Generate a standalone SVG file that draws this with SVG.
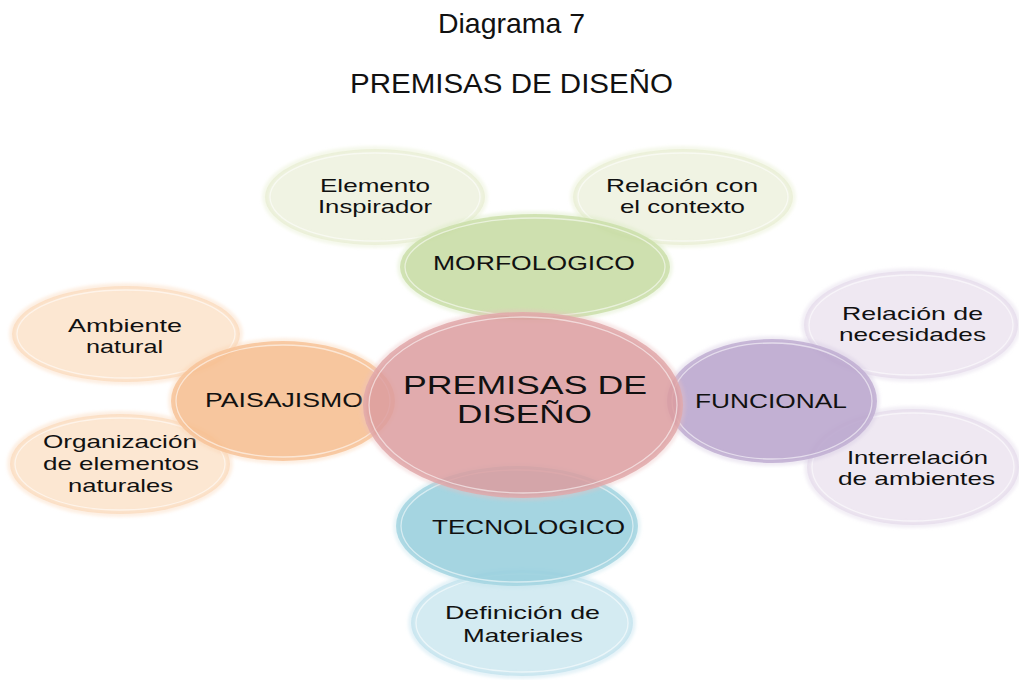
<svg xmlns="http://www.w3.org/2000/svg" width="1019" height="680" viewBox="0 0 1019 680">
<style>
text{font-family:"Liberation Sans",Arial,sans-serif;fill:#111;text-anchor:middle}
.t{font-size:28px}
.s{font-size:18.5px}
.m{font-size:20px}
.c{font-size:26px}
.rim{fill:none;stroke:#fff;stroke-width:1.3;stroke-opacity:0.55}
.glow{fill:none;stroke-width:6;stroke-opacity:0.35}
</style>
<defs>
<filter id="soft" x="-10%" y="-10%" width="120%" height="120%"><feGaussianBlur stdDeviation="1.6"/></filter>
</defs>
<rect width="1019" height="680" fill="#fff"/>
<g id="title">
<text class="t" x="511.5" y="33" textLength="147" lengthAdjust="spacingAndGlyphs">Diagrama 7</text>
<text class="t" x="511.5" y="93" textLength="323" lengthAdjust="spacingAndGlyphs">PREMISAS DE DISEÑO</text>
</g>
<g id="connectors"></g>
<!-- satellites -->
<g id="elemento">
<ellipse cx="375" cy="197" rx="110" ry="48" fill="#eef2e0" fill-opacity="0.9"/>
<ellipse class="glow" cx="375" cy="197" rx="110" ry="48" stroke="#e2ebc6" filter="url(#soft)"/>
<ellipse class="rim" cx="375" cy="197" rx="105" ry="44"/>
<text class="s" x="375" y="192" textLength="110" lengthAdjust="spacingAndGlyphs">Elemento</text>
<text class="s" x="375" y="213" textLength="114" lengthAdjust="spacingAndGlyphs">Inspirador</text>
</g>
<g id="contexto">
<ellipse cx="683" cy="197" rx="110" ry="48" fill="#eef2e0" fill-opacity="0.9"/>
<ellipse class="glow" cx="683" cy="197" rx="110" ry="48" stroke="#e2ebc6" filter="url(#soft)"/>
<ellipse class="rim" cx="683" cy="197" rx="105" ry="44"/>
<text class="s" x="682" y="192" textLength="152" lengthAdjust="spacingAndGlyphs">Relación con</text>
<text class="s" x="682.5" y="213" textLength="125" lengthAdjust="spacingAndGlyphs">el contexto</text>
</g>
<g id="ambiente">
<ellipse cx="126" cy="334" rx="114" ry="48" fill="#fce4cd" fill-opacity="0.9"/>
<ellipse class="glow" cx="126" cy="334" rx="114" ry="48" stroke="#f8d2ae" filter="url(#soft)"/>
<ellipse class="rim" cx="126" cy="334" rx="109" ry="44"/>
<text class="s" x="125" y="332" textLength="114" lengthAdjust="spacingAndGlyphs">Ambiente</text>
<text class="s" x="124.5" y="353" textLength="77" lengthAdjust="spacingAndGlyphs">natural</text>
</g>
<g id="organizacion">
<ellipse cx="120" cy="464" rx="110" ry="50" fill="#fce4cd" fill-opacity="0.9"/>
<ellipse class="glow" cx="120" cy="464" rx="110" ry="50" stroke="#f8d2ae" filter="url(#soft)"/>
<ellipse class="rim" cx="120" cy="464" rx="105" ry="46"/>
<text class="s" x="120" y="448" textLength="154" lengthAdjust="spacingAndGlyphs">Organización</text>
<text class="s" x="121" y="470" textLength="156" lengthAdjust="spacingAndGlyphs">de elementos</text>
<text class="s" x="120.5" y="492" textLength="105" lengthAdjust="spacingAndGlyphs">naturales</text>
</g>
<g id="necesidades">
<ellipse cx="911" cy="325" rx="107" ry="54" fill="#ede6f1" fill-opacity="0.9"/>
<ellipse class="glow" cx="911" cy="325" rx="107" ry="54" stroke="#ddd0e6" filter="url(#soft)"/>
<ellipse class="rim" cx="911" cy="325" rx="102" ry="50"/>
<text class="s" x="912.5" y="320" textLength="141" lengthAdjust="spacingAndGlyphs">Relación de</text>
<text class="s" x="912.5" y="341" textLength="147" lengthAdjust="spacingAndGlyphs">necesidades</text>
</g>
<g id="interrelacion">
<ellipse cx="913" cy="467" rx="106" ry="58" fill="#ede6f1" fill-opacity="0.9"/>
<ellipse class="glow" cx="913" cy="467" rx="106" ry="58" stroke="#ddd0e6" filter="url(#soft)"/>
<ellipse class="rim" cx="913" cy="467" rx="101" ry="54"/>
<text class="s" x="917.5" y="464" textLength="141" lengthAdjust="spacingAndGlyphs">Interrelación</text>
<text class="s" x="916.5" y="485" textLength="157" lengthAdjust="spacingAndGlyphs">de ambientes</text>
</g>
<g id="materiales">
<ellipse cx="522" cy="623" rx="111" ry="53" fill="#cfe9f1" fill-opacity="0.9"/>
<ellipse class="glow" cx="522" cy="623" rx="111" ry="53" stroke="#b6deea" filter="url(#soft)"/>
<ellipse class="rim" cx="522" cy="623" rx="106" ry="49"/>
<text class="s" x="522.5" y="619" textLength="155" lengthAdjust="spacingAndGlyphs">Definición de</text>
<text class="s" x="523" y="642" textLength="120" lengthAdjust="spacingAndGlyphs">Materiales</text>
</g>
<!-- main nodes -->
<g id="morfologico">
<ellipse cx="535" cy="267" rx="135" ry="53" fill="#c6dba1" fill-opacity="0.85"/>
<ellipse class="glow" cx="535" cy="267" rx="135" ry="53" stroke="#d8e7bd" filter="url(#soft)"/>
<ellipse class="rim" cx="535" cy="267" rx="130" ry="49"/>
<text class="m" x="534" y="270" textLength="202" lengthAdjust="spacingAndGlyphs">MORFOLOGICO</text>
</g>
<g id="paisajismo">
<ellipse cx="283" cy="401" rx="112" ry="60" fill="#f6be91" fill-opacity="0.88"/>
<ellipse class="glow" cx="283" cy="401" rx="112" ry="60" stroke="#f9d2b0" filter="url(#soft)"/>
<ellipse class="rim" cx="283" cy="401" rx="107" ry="56"/>
<text class="m" x="284" y="407" textLength="158" lengthAdjust="spacingAndGlyphs">PAISAJISMO</text>
</g>
<g id="funcional">
<ellipse cx="772" cy="401" rx="105" ry="62" fill="#b9a5cd" fill-opacity="0.88"/>
<ellipse class="glow" cx="772" cy="401" rx="105" ry="62" stroke="#d2c5e0" filter="url(#soft)"/>
<ellipse class="rim" cx="772" cy="401" rx="100" ry="58"/>
<text class="m" x="771" y="408" textLength="152" lengthAdjust="spacingAndGlyphs">FUNCIONAL</text>
</g>
<g id="tecnologico">
<ellipse cx="517" cy="526" rx="121" ry="60" fill="#99cfdd" fill-opacity="0.88"/>
<ellipse class="glow" cx="517" cy="526" rx="121" ry="60" stroke="#bfe2eb" filter="url(#soft)"/>
<ellipse class="rim" cx="517" cy="526" rx="116" ry="56"/>
<text class="m" x="528.5" y="534" textLength="193" lengthAdjust="spacingAndGlyphs">TECNOLOGICO</text>
</g>
<g id="premisas">
<ellipse cx="523" cy="405" rx="160" ry="93" fill="#dc9c9f" fill-opacity="0.85"/>
<ellipse class="glow" cx="523" cy="405" rx="160" ry="93" stroke="#ebc0c1" filter="url(#soft)"/>
<ellipse class="rim" cx="523" cy="405" rx="154" ry="88"/>
<text class="c" x="525" y="394" textLength="244" lengthAdjust="spacingAndGlyphs">PREMISAS DE</text>
<text class="c" x="524.5" y="423" textLength="135" lengthAdjust="spacingAndGlyphs">DISEÑO</text>
</g>
</svg>
